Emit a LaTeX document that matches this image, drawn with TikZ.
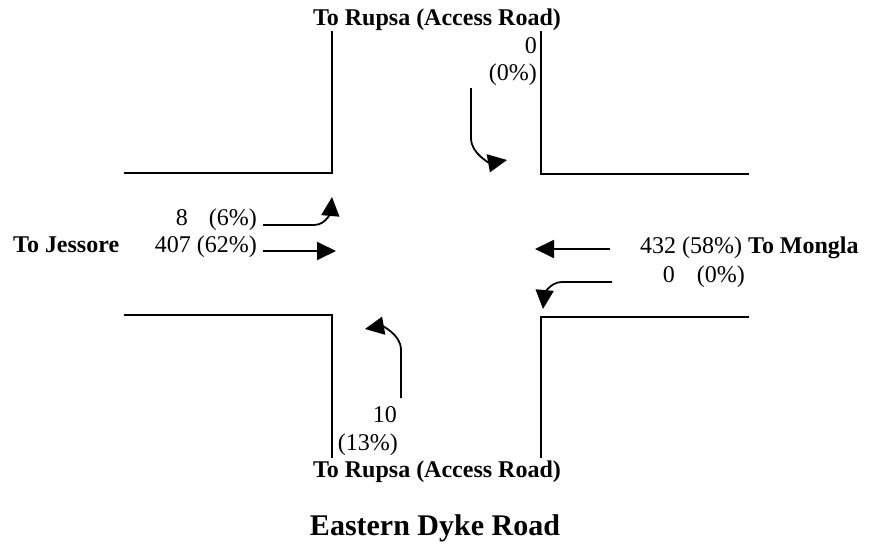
\documentclass[tikz,border=0pt]{standalone}
\usepackage{fontspec}
\setmainfont{Liberation Serif}
\usetikzlibrary{arrows.meta}
\tikzset{
  road/.style={line width=2.6pt, line join=miter, line cap=rect},
  flow/.style={line width=1.8pt, -{Triangle[length=19pt,width=18pt]}},
  lbl/.style={inner sep=0pt, font=\fontsize{24}{28}\selectfont},
  hdr/.style={inner sep=0pt, font=\fontsize{24}{28}\selectfont\bfseries},
  title/.style={inner sep=0pt, font=\fontsize{30}{34}\selectfont\bfseries}
}
\begin{document}
\begin{tikzpicture}[x=1pt,y=-1pt]
\path[use as bounding box, fill=white] (0,0) rectangle (871,546);

% road edges
\draw[road] (125,173) -- (332,173) -- (332,32);
\draw[road] (541,32) -- (541,174) -- (748,174);
\draw[road] (125,315) -- (332,315) -- (332,457);
\draw[road] (748,317) -- (541,317) -- (541,457);

% labels
\node[hdr, anchor=base] (north) at (437,25) {To Rupsa (Access Road)};
\node[lbl, anchor=base east] (nA) at (537,53) {0};
\node[lbl, anchor=base east] (nB) at (537,80) {(0\%)};

\node[hdr, anchor=base west] (west) at (13,252) {To Jessore};
\node[lbl, anchor=base east] (wA) at (257,225) {8\hspace{21pt}(6\%)};
\node[lbl, anchor=base east] (wB) at (257,252) {407 (62\%)};

\node[lbl, anchor=base west] (east) at (640,253) {432 (58\%) \textbf{To Mongla}};
\node[lbl, anchor=base east] (eB) at (745,282) {0\hspace{22pt}(0\%)};

\node[lbl, anchor=base east] (sA) at (397,422) {10};
\node[lbl, anchor=base east] (sB) at (398,450) {(13\%)};
\node[hdr, anchor=base] (south) at (437,477) {To Rupsa (Access Road)};
\node[title, anchor=base] (name) at (435,535) {Eastern Dyke Road};

% flow arrows
\coordinate (n1) at (471,88);
\coordinate (n2) at (471,138);
\coordinate (n3) at (507,160);
\draw[flow] (n1) -- (n2) to[out=-90,in=190] (n3);

\coordinate (w1) at (263,225);
\coordinate (w2) at (314,225);
\coordinate (w3) at (332,197);
\draw[flow] (w1) -- (w2) to[out=0,in=-95] (w3);

\coordinate (w4) at (263,251);
\coordinate (w5) at (336,251);
\draw[flow] (w4) -- (w5);

\coordinate (e1) at (610,249);
\coordinate (e2) at (535,249);
\draw[flow] (e1) -- (e2);

\coordinate (e3) at (612,282);
\coordinate (e4) at (562,282);
\coordinate (e5) at (543,309);
\draw[flow] (e3) -- (e4) to[out=180,in=85] (e5);

\coordinate (s1) at (401,398);
\coordinate (s2) at (401,350);
\coordinate (s3) at (365,329);
\draw[flow] (s1) -- (s2) to[out=90,in=10] (s3);
\end{tikzpicture}
\end{document}
